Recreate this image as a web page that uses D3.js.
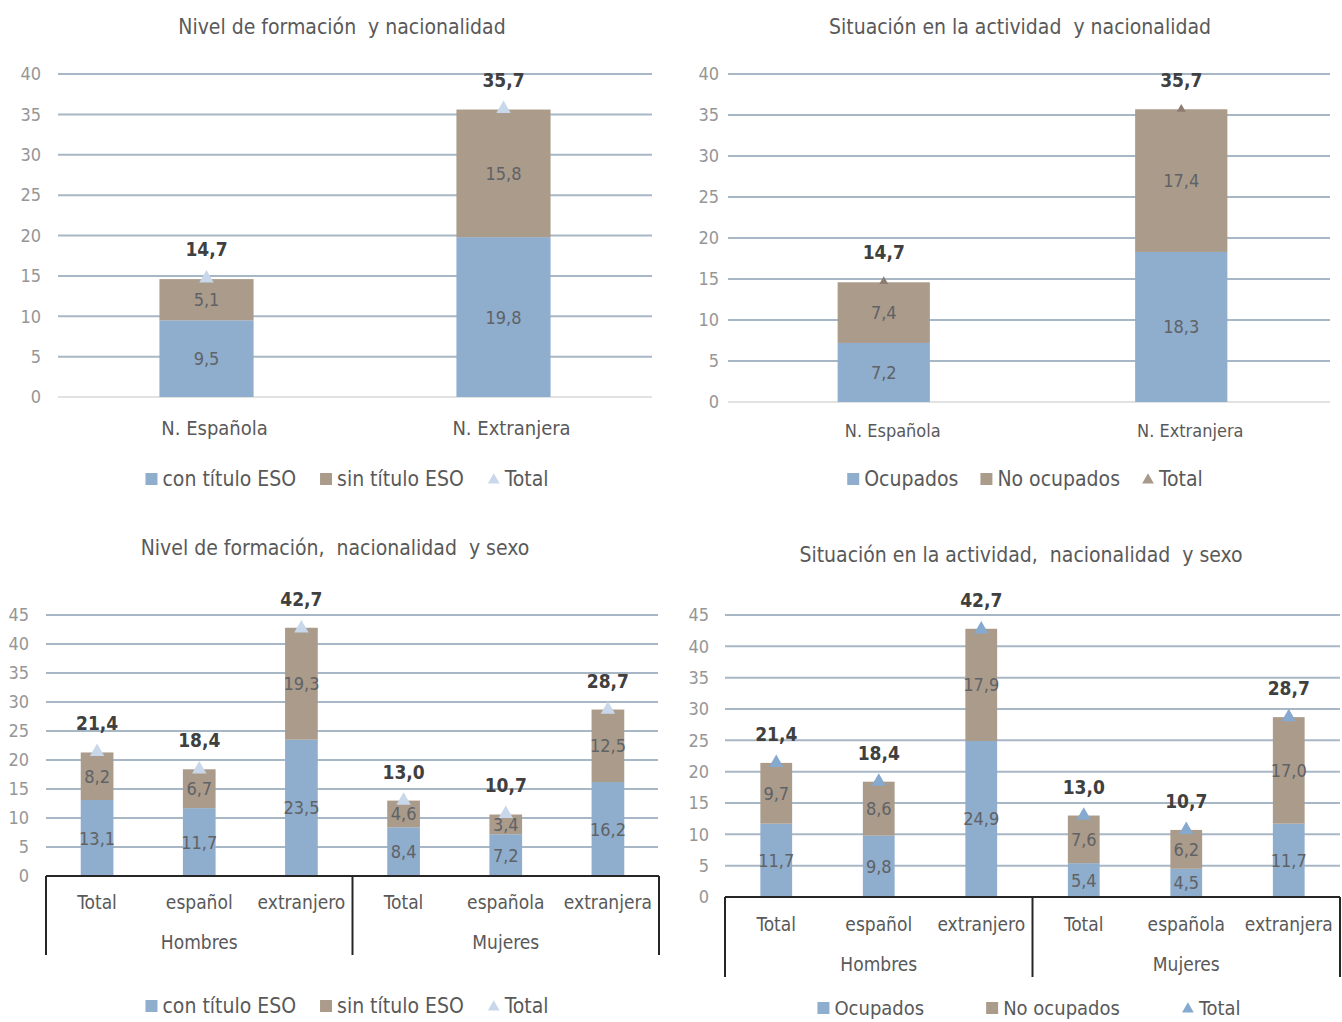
<!DOCTYPE html>
<html><head><meta charset="utf-8">
<script src="https://cdn.jsdelivr.net/npm/d3@7"></script>
<style>
body{margin:0;background:#fff;}
svg text{font-family:"Liberation Sans Narrow","Arial Narrow","DejaVu Sans Condensed",sans-serif;}
</style>
</head><body><svg id="c" width="1342" height="1022"></svg>
<script>
// ---- data ----
const cats1 = ["N. Española", "N. Extranjera"];
const conEso1 = [9.5, 19.8];
const sinEso1 = [5.1, 15.8];
const total1 = [14.7, 35.7];

const cats2 = ["N. Española", "N. Extranjera"];
const ocupados2 = [7.2, 18.3];
const noOcupados2 = [7.4, 17.4];
const total2 = [14.7, 35.7];

const cats3 = ["Total", "español", "extranjero", "Total", "española", "extranjera"];
const groups3 = ["Hombres", "Mujeres"];
const conEso3 = [13.1, 11.7, 23.5, 8.4, 7.2, 16.2];
const sinEso3 = [8.2, 6.7, 19.3, 4.6, 3.4, 12.5];
const total3 = [21.4, 18.4, 42.7, 13.0, 10.7, 28.7];

const cats4 = ["Total", "español", "extranjero", "Total", "española", "extranjera"];
const groups4 = ["Hombres", "Mujeres"];
const ocupados4 = [11.7, 9.8, 24.9, 5.4, 4.5, 11.7];
const noOcupados4 = [9.7, 8.6, 17.9, 7.6, 6.2, 17.0];
const total4 = [21.4, 18.4, 42.7, 13.0, 10.7, 28.7];

const ticksTop = [0, 5, 10, 15, 20, 25, 30, 35, 40];
const ticksBottom = [0, 5, 10, 15, 20, 25, 30, 35, 40, 45];

const legendEso = ["con título ESO", "sin título ESO", "Total"];
const legendOcu = ["Ocupados", "No ocupados", "Total"];

const titles = ["Nivel de formación  y nacionalidad", "Situación en la actividad  y nacionalidad",
  "Nivel de formación,  nacionalidad  y sexo", "Situación en la actividad,  nacionalidad  y sexo"];

// ---- style ----
const BLUE = "#8fadcc", BROWN = "#aa9b8b", GRID = "#a8b7c6";
const fmt = v => d3.format(".1f")(v).replace(".", ",");
const svg = d3.select("#c");

function panel(p) {
  const g = svg.append("g");
  const x = d3.scaleBand().domain(d3.range(p.cats.length)).range(p.xr).padding(0);
  const y = d3.scaleLinear().domain([0, p.ymax]).range(p.yr);
  const bw = x.bandwidth() * p.barRatio;

  // title
  g.append("text").attr("x", p.title[0]).attr("y", p.title[1]).attr("text-anchor", "middle")
    .attr("dominant-baseline", "central").attr("font-size", 21).attr("fill", "#595959")
    .style("white-space", "pre").text(p.titleText);

  // gridlines
  g.selectAll("line.grid").data(p.ticks.filter(t => t > 0)).join("line")
    .attr("x1", p.gx[0]).attr("x2", p.gx[1]).attr("y1", d => y(d)).attr("y2", d => y(d))
    .attr("stroke", GRID).attr("stroke-width", 2);
  if (!p.box) {
    g.append("line").attr("x1", p.gx[0]).attr("x2", p.gx[1]).attr("y1", y(0)).attr("y2", y(0))
      .attr("stroke", "#d9d9d9").attr("stroke-width", 1.5);
  }

  // y axis labels
  const ya = g.append("g").attr("transform", `translate(${p.yLabelX},0)`)
    .call(d3.axisLeft(y).tickValues(p.ticks).tickSize(0).tickPadding(0).tickFormat(d3.format("d")));
  ya.select(".domain").remove();
  ya.selectAll("text").attr("font-size", 18).attr("fill", "#969696").style("font-family", null);

  // stacked bars
  const rows = p.cats.map((c, i) => ({ i, a: p.s1[i], b: p.s2[i] }));
  const stack = d3.stack().keys(["a", "b"])(rows);
  const cols = [BLUE, BROWN];
  stack.forEach((layer, k) => {
    g.selectAll(null).data(layer).join("rect")
      .attr("x", d => x(d.data.i) + x.bandwidth() / 2 - bw / 2)
      .attr("width", bw)
      .attr("y", d => y(d[1]))
      .attr("height", d => y(d[0]) - y(d[1]))
      .attr("fill", cols[k]);
  });
  stack.forEach((layer) => {
    g.selectAll(null).data(layer).join("text")
      .attr("x", d => x(d.data.i) + x.bandwidth() / 2)
      .attr("y", d => y((d[0] + d[1]) / 2))
      .attr("text-anchor", "middle").attr("dominant-baseline", "central")
      .attr("font-size", 18).attr("fill", "#5f6266")
      .text(d => fmt(d[1] - d[0]));
  });

  // total markers
  const tri = d3.symbol(d3.symbolTriangle, p.triSize);
  g.selectAll(null).data(p.total).join("path")
    .attr("d", tri)
    .attr("transform", (d, i) => `translate(${x(i) + x.bandwidth() / 2},${y(d)})`)
    .attr("fill", p.triColor);
  g.selectAll(null).data(p.total).join("text")
    .attr("x", (d, i) => x(i) + x.bandwidth() / 2)
    .attr("y", d => y(d) - 29)
    .attr("text-anchor", "middle").attr("dominant-baseline", "central")
    .attr("font-size", 19).attr("font-weight", "bold").attr("fill", "#404040")
    .text(d => fmt(d));

  // x axis
  const xa = g.append("g").attr("transform", `translate(0,${p.catY})`)
    .call(d3.axisBottom(x).tickSize(0).tickPadding(0).tickFormat(i => p.cats[i]));
  xa.select(".domain").remove();
  xa.selectAll("text").attr("font-size", p.catSize).attr("fill", "#595959").attr("dy", null)
    .attr("dominant-baseline", "central").attr("dx", p.catDx || 0).style("font-family", null);

  if (p.box) {
    const y0 = y(0);
    g.append("line").attr("x1", p.xr[0]).attr("x2", p.xr[1]).attr("y1", y0).attr("y2", y0)
      .attr("stroke", "#262626").attr("stroke-width", 2);
    const mid = (p.xr[0] + p.xr[1]) / 2;
    [p.xr[0], mid, p.xr[1]].forEach(xx => {
      g.append("line").attr("x1", xx).attr("x2", xx).attr("y1", y0).attr("y2", p.boxBottom)
        .attr("stroke", "#262626").attr("stroke-width", 2);
    });
    const gx = d3.scaleBand().domain(d3.range(p.groups.length)).range(p.xr);
    g.selectAll(null).data(p.groups).join("text")
      .attr("x", (d, i) => gx(i) + gx.bandwidth() / 2).attr("y", p.groupY)
      .attr("text-anchor", "middle").attr("dominant-baseline", "central")
      .attr("font-size", 19).attr("fill", "#595959").text(d => d);
  }

  // legend
  const lg = g.append("g");
  let cx = 0;
  p.legend.forEach((name, k) => {
    const it = lg.append("g").attr("transform", `translate(${cx},0)`);
    if (k < 2) {
      it.append("rect").attr("x", 0).attr("y", -6).attr("width", 12).attr("height", 12).attr("fill", cols[k]);
    } else {
      it.append("path").attr("d", d3.symbol(d3.symbolTriangle, 60)).attr("transform", "translate(6,1)").attr("fill", p.legTri);
    }
    const t = it.append("text").attr("x", 17).attr("y", 0).attr("dominant-baseline", "central")
      .attr("font-size", p.legSize || 21).attr("fill", "#595959").text(name);
    const w = 17 + t.node().getComputedTextLength();
    cx += w + p.legGap;
  });
  const totalW = cx - p.legGap;
  lg.attr("transform", `translate(${p.legX - totalW / 2},${p.legY})`);
}

panel({
  cats: cats1, s1: conEso1, s2: sinEso1, total: total1, ticks: ticksTop, ymax: 40,
  xr: [58, 652], gx: [58, 652], yr: [397, 74], barRatio: 0.317, yLabelX: 41,
  title: [342, 27], titleText: titles[0], catY: 428, catSize: 20, catDx: 8,
  triSize: 90, triColor: "#c8d8ea", legend: legendEso, legTri: "#c8d8ea",
  legX: 347, legY: 479, legGap: 24
});
panel({
  cats: cats2, s1: ocupados2, s2: noOcupados2, total: total2, ticks: ticksTop, ymax: 40,
  xr: [735, 1330], gx: [728, 1330], yr: [402, 74], barRatio: 0.31, yLabelX: 719,
  title: [1020, 27], titleText: titles[1], catY: 430, catSize: 18, catDx: 9,
  triSize: 35, triColor: "#8c7d70", legend: legendOcu, legTri: "#a8998a",
  legX: 1025, legY: 479, legGap: 22
});
panel({
  cats: cats3, s1: conEso3, s2: sinEso3, total: total3, ticks: ticksBottom, ymax: 45,
  xr: [46, 659], gx: [46, 658], yr: [876, 615], barRatio: 0.32, yLabelX: 29,
  title: [335, 548], titleText: titles[2], catY: 902, catSize: 19, catDx: 0,
  box: true, groups: groups3, groupY: 942, boxBottom: 955,
  triSize: 90, triColor: "#c8d8ea", legend: legendEso, legTri: "#c8d8ea",
  legX: 347, legY: 1006, legGap: 24
});
panel({
  cats: cats4, s1: ocupados4, s2: noOcupados4, total: total4, ticks: ticksBottom, ymax: 45,
  xr: [725, 1340], gx: [725, 1340], yr: [897, 615], barRatio: 0.31, yLabelX: 709,
  title: [1021, 555], titleText: titles[3], catY: 924, catSize: 19, catDx: 0,
  box: true, groups: groups4, groupY: 964, boxBottom: 977,
  triSize: 90, triColor: "#86a9cf", legend: legendOcu, legTri: "#86a9cf",
  legX: 1029, legY: 1008, legGap: 62, legSize: 20
});
</script>
</body></html>
